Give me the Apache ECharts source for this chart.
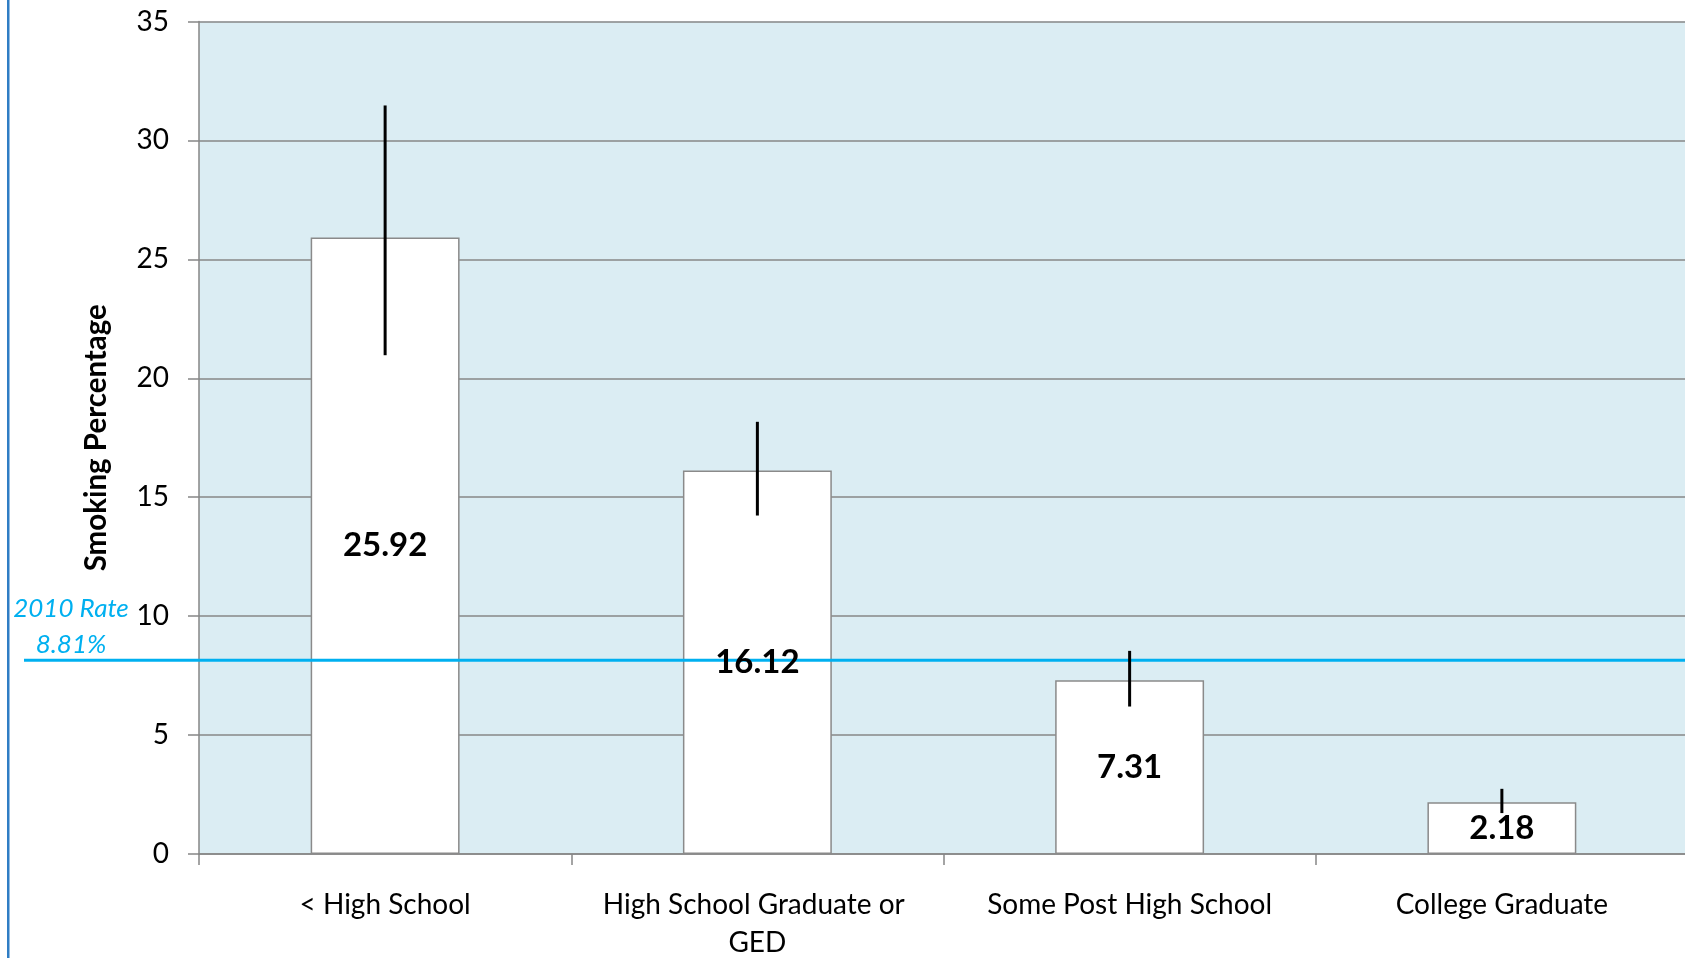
<!DOCTYPE html>
<html>
<head>
<meta charset="utf-8">
<script src="https://cdn.jsdelivr.net/npm/echarts@6/dist/echarts.min.js"></script>
<style>
html,body{margin:0;padding:0;background:#fff;}
#chart{width:1685px;height:958px;}
</style>
</head>
<body>
<div id="chart"></div>
<script>
const categories = ['< High School', 'High School Graduate or GED', 'Some Post High School', 'College Graduate'];
const values = [25.92, 16.12, 7.31, 2.18];
const errLow = [20.97, 14.23, 6.20, 1.72];
const errHigh = [31.47, 18.17, 8.54, 2.74];
const refValue = 8.15;
const refLabel = '2010 Rate\n8.81%';
const yTicks = [0, 5, 10, 15, 20, 25, 30, 35];

const FONT = 'Lato';
const chart = echarts.init(document.getElementById('chart'));
const gridBase = {top: 21.5, bottom: 104, outerBoundsMode: 'none', containLabel: false};

chart.setOption({
  animation: false,
  backgroundColor: '#ffffff',
  graphic: [
    {type: 'rect', left: 7, top: 0, shape: {width: 2.5, height: 958}, style: {fill: '#2F7DC4'}, z: 10},
    {type: 'text', x: 71, y: 591, z: 10,
     style: {text: refLabel, font: 'italic 26px ' + FONT, fill: '#00B0F0', align: 'center', verticalAlign: 'top', lineHeight: 36}}
  ],
  grid: [
    Object.assign({left: 199, right: -3, show: true, backgroundColor: '#DBEDF3', borderWidth: 0}, gridBase),
    Object.assign({left: 24, right: 0}, gridBase)
  ],
  xAxis: [
    {type: 'category', data: categories, gridIndex: 0,
     axisLine: {show: true, lineStyle: {color: '#868686', width: 1.5}},
     axisTick: {show: true, length: 11, alignWithLabel: false, lineStyle: {color: '#868686', width: 1.5}},
     axisLabel: {color: '#000', fontFamily: FONT, fontSize: 28, margin: 32, lineHeight: 38, width: 340, overflow: 'break', interval: 0}},
    {type: 'value', gridIndex: 1, min: 0, max: 1, show: false}
  ],
  yAxis: [
    {type: 'value', gridIndex: 0, min: 0, max: 35, interval: 5,
     name: 'Smoking Percentage', nameLocation: 'middle', nameGap: 88,
     nameTextStyle: {fontFamily: FONT, fontWeight: 'bold', fontSize: 29.5, color: '#000'},
     axisLine: {show: true, lineStyle: {color: '#868686', width: 1.5}},
     axisTick: {show: true, length: 11, lineStyle: {color: '#868686', width: 1.5}},
     axisLabel: {color: '#000', fontFamily: FONT, fontSize: 28, margin: 30,
       formatter: v => yTicks.includes(v) ? String(v) : ''},
     splitLine: {show: true, lineStyle: {color: '#878787', width: 1.5}}},
    {type: 'value', gridIndex: 1, min: 0, max: 35, show: false}
  ],
  series: [
    {type: 'bar', xAxisIndex: 0, yAxisIndex: 0, data: values, barWidth: '40%', z: 2,
     itemStyle: {color: '#ffffff', borderColor: '#8A8A8A', borderWidth: 1.5}},
    {type: 'line', xAxisIndex: 1, yAxisIndex: 1, data: [[0, refValue], [1, refValue]],
     symbol: 'none', z: 3, lineStyle: {color: '#00B0F0', width: 3}, silent: true},
    {type: 'custom', xAxisIndex: 0, yAxisIndex: 0, z: 4,
     data: categories.map((c, i) => [i, errLow[i], errHigh[i]]),
     renderItem: function (params, api) {
       const lo = api.coord([api.value(0), api.value(1)]);
       const hi = api.coord([api.value(0), api.value(2)]);
       return {type: 'line', shape: {x1: lo[0], y1: lo[1], x2: hi[0], y2: hi[1]},
               style: {stroke: '#000', lineWidth: 3}};
     }},
    {type: 'bar', xAxisIndex: 0, yAxisIndex: 0, data: values, barWidth: '40%', barGap: '-100%', z: 5,
     itemStyle: {color: 'rgba(0,0,0,0)'},
     label: {show: true, position: 'inside', color: '#000', fontFamily: FONT, fontWeight: 'bold', fontSize: 33,
       formatter: p => p.value.toFixed(2)}}
  ]
});
</script>
</body>
</html>
